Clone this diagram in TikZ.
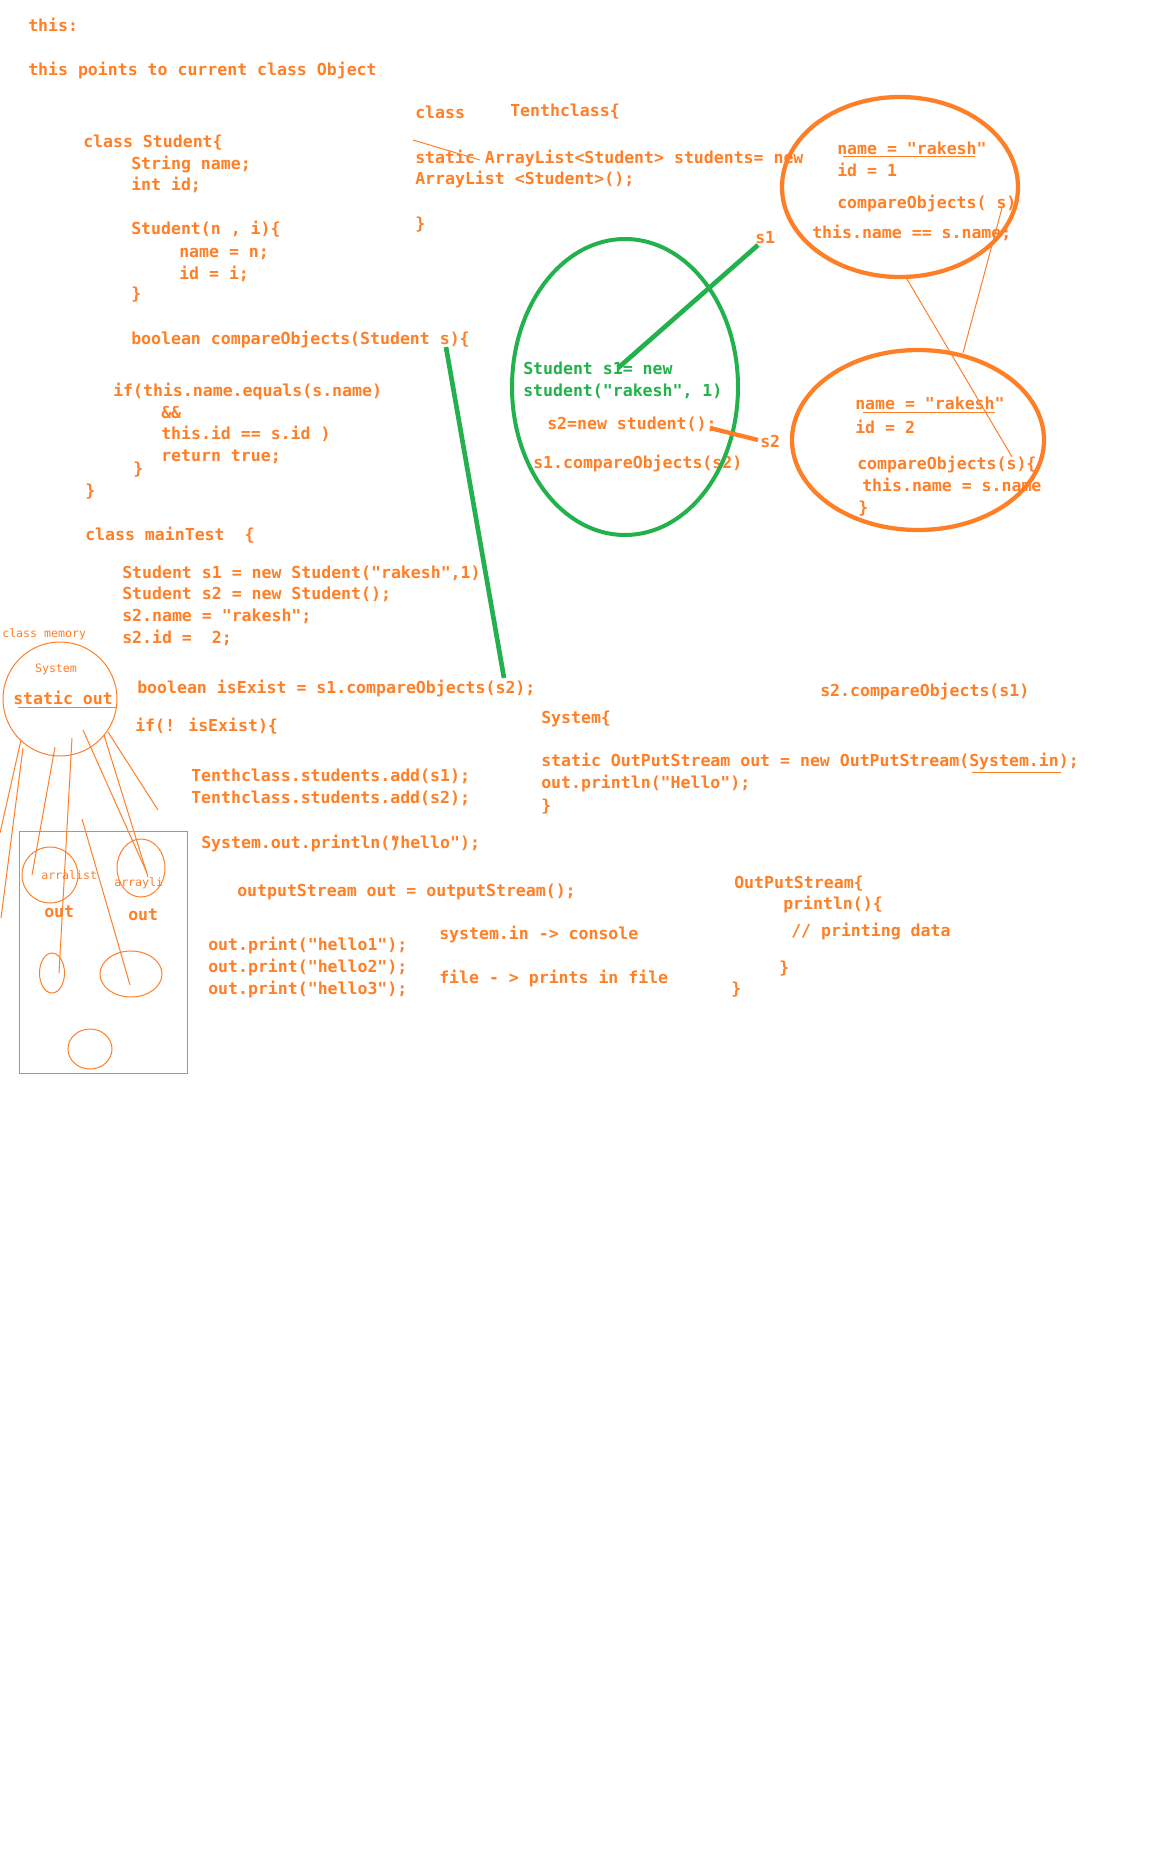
\documentclass[tikz,border=0pt]{standalone}
\usepackage{fontspec}
\usepackage{xcolor}
\usepackage{tikz}
\definecolor{paint}{RGB}{255,127,39}
\definecolor{grass}{RGB}{34,177,76}
\newfontfamily\codefont{DejaVu Sans Mono}
\tikzset{
  code/.style={anchor=base west,inner sep=0pt,text=paint,
               font=\codefont\bfseries\fontsize{12.4}{15}\selectfont},
  gcode/.style={code,text=grass},
  tiny/.style={anchor=base west,inner sep=0pt,text=paint,
               font=\codefont\fontsize{8.7}{10}\selectfont},
  scrib/.style={draw=paint,line width=0.75pt},
  blob/.style={draw=paint,line width=3.2pt},
  gblob/.style={draw=grass,line width=3pt},
}

\begin{document}
\begin{tikzpicture}[x=0.75pt,y=-0.75pt]
  \fill[white] (0,0) rectangle (1160,1860);
  \useasboundingbox (0,0) rectangle (1160,1860);

  % intro
  \node[code] (this) at (28,31) {this:};
  \node[code] (intro) at (28,75) {this points to current class Object};

  % class Student
  \node[code] (stud) at (83,147) {class Student\{};
  \node[code] (sname) at (131,169) {String name;};
  \node[code] (sid) at (131,190) {int id;};
  \node[code] (ctor) at (131,234) {Student(n , i)\{};
  \node[code] (cname) at (179,257) {name = n;};
  \node[code] (cid) at (179,279) {id = i;};
  \node[code] (cend) at (131,299) {\}};
  \node[code] (cmp) at (131,344) {boolean compareObjects(Student s)\{};
  \node[code] (cif) at (113,396) {if(this.name.equals(s.name)};
  \node[code] (cand) at (161,418) {\&\&};
  \node[code] (cids) at (161,439) {this.id == s.id )};
  \node[code] (cret) at (161,461) {return true;};
  \node[code] (cmpend) at (133,474) {\}};
  \node[code] (studend) at (85,496) {\}};

  % class mainTest
  \node[code] (main) at (85,540) {class mainTest\ \ \{};
  \node[code] (ms1) at (122,578) {Student s1 = new Student("rakesh",1)};
  \node[code] (ms2) at (122,599) {Student s2 = new Student();};
  \node[code] (ms2n) at (122,621) {s2.name = "rakesh";};
  \node[code] (ms2i) at (122,643) {s2.id =\ \ 2;};
  \node[code] (exist) at (137,693) {boolean isExist = s1.compareObjects(s2);};
  \node[code] (ifnot) at (135,731) {if(! isExist)\{};
  \node[code] (add1) at (191,781) {Tenthclass.students.add(s1);};
  \node[code] (add2) at (191,803) {Tenthclass.students.add(s2);};
  \node[code] (sysout) at (201,848) {System.out.println(\rlap{)}"hello");};
  \node[code] (ostream) at (237,896) {outputStream out = outputStream();};
  \node[code] (hello1) at (208,950) {out.print("hello1");};
  \node[code] (hello2) at (208,972) {out.print("hello2");};
  \node[code] (hello3) at (208,994) {out.print("hello3");};
  \node[code] (sysin) at (439,939) {system.in -> console};
  \node[code] (tofile) at (439,983) {file - > prints in file};

  % OutPutStream
  \node[code] (ops) at (734,888) {OutPutStream\{};
  \node[code] (opsln) at (783,909) {println()\{};
  \node[code] (opsdata) at (791,936) {// printing data};
  \node[code] (opslnend) at (779,973) {\}};
  \node[code] (opsend) at (731,994) {\}};

  % System
  \node[code] (s2cmp) at (820,696) {s2.compareObjects(s1)};
  \node[code] (sys) at (541,723) {System\{};
  \node[code] (sysst) at (541,766) {static OutPutStream out = new OutPutStream(System.in);};
  \node[code] (sysln) at (541,788) {out.println("Hello");};
  \node[code] (sysend) at (541,811) {\}};
  \draw[scrib] (972,772) -- (1061,772);

  % Tenthclass
  \node[code] (tcls) at (415,118) {class};
  \node[code] (tname) at (510,116) {Tenthclass\{};
  \node[code] (tlist) at (415,163) {static ArrayList<Student> students= new};
  \node[code] (tnew) at (415,184) {ArrayList <Student>();};
  \node[code] (tend) at (415,229) {\}};
  \draw[scrib] (413,140) -- (480,160);

  % heap: green object
  \node[gcode] (gs1) at (523,374) {Student s1= new};
  \node[gcode] (gst) at (523,396) {student("rakesh", 1)};
  \node[code] (gs2) at (547,429) {s2=new student();};
  \node[code] (gcmp) at (533,468) {s1.compareObjects(s2)};
  \node[code] (lbls1) at (755,243) {s1};
  \node[code] (lbls2) at (760,447) {s2};
  \draw[gblob] (625,387) ellipse [x radius=113,y radius=148];

  % object s1
  \node[code] (o1name) at (837,154) {name = "rakesh"};
  \node[code] (o1id) at (837,176) {id = 1};
  \node[code] (o1cmp) at (837,208) {compareObjects( s)};
  \node[code] (o1eq) at (812,238) {this.name == s.name;};
  \draw[scrib] (843,156) -- (975,156);
  \draw[blob] (900,187) ellipse [x radius=118,y radius=90];

  % object s2
  \node[code] (o2name) at (855,409) {name = "rakesh"};
  \node[code] (o2id) at (855,433) {id = 2};
  \node[code] (o2cmp) at (857,469) {compareObjects(s)\{};
  \node[code] (o2eq) at (862,491) {this.name = s.name};
  \node[code] (o2end) at (858,513) {\}};
  \draw[scrib] (863,412) -- (995,412);
  \draw[blob] (918,440) ellipse [x radius=126,y radius=90];

  % connectors
  \coordinate (s1foot) at (758,245);
  \coordinate (s1head) at (618,368);
  \coordinate (s2foot) at (758,440);
  \coordinate (s2head) at (710,428);
  \coordinate (argtop) at (446,347);
  \coordinate (argbot) at (504,678);
  \coordinate (o1s) at (1002,208);
  \coordinate (o1b) at (907,279);
  \coordinate (o2s) at (963,353);
  \coordinate (o2b) at (1012,457);
  \draw[gblob,line width=3.5pt] (s1foot) -- (s1head);
  \draw[blob] (s2head) -- (s2foot);
  \draw[gblob,line width=3.5pt] (argtop) -- (argbot);
  \draw[scrib] (o1s) -- (o2s);
  \draw[scrib] (o1b) -- (o2b);

  % class memory sketch
  \node[tiny] (clsmem) at (2,637) {class memory};
  \node[tiny,anchor=base] (memsys) at (56,672) {System};
  \node[code] (memout) at (13,704) {static out};
  \draw[scrib] (18,707) -- (116,707);
  \draw[scrib] (60,699) ellipse [x radius=57,y radius=57];
  \draw[scrib] (19,831) rectangle (187,1073);
  \draw[scrib] (50,875) ellipse [x radius=28,y radius=28];
  \draw[scrib] (141,868) ellipse [x radius=24,y radius=29];
  \draw[scrib] (52,973) ellipse [x radius=12.5,y radius=20];
  \draw[scrib] (131,974) ellipse [x radius=31,y radius=23];
  \draw[scrib] (90,1049) ellipse [x radius=22,y radius=20];
  \node[tiny] (arra) at (41,879) {arralist};
  \node[tiny] (arry) at (114,886) {arrayli};
  \node[code] (out1) at (44,917) {out};
  \node[code] (out2) at (128,920) {out};
  \draw[scrib] (21,740) -- (0,833);
  \draw[scrib] (23,748) -- (1,918);
  \draw[scrib] (55,747) -- (32,875);
  \draw[scrib] (72,738) -- (59,973);
  \draw[scrib] (83,730) -- (147,873);
  \draw[scrib] (104,735) -- (148,877);
  \draw[scrib] (108,732) -- (158,810);
  \draw[scrib] (82,819) -- (130,985);
\end{tikzpicture}
\end{document}
